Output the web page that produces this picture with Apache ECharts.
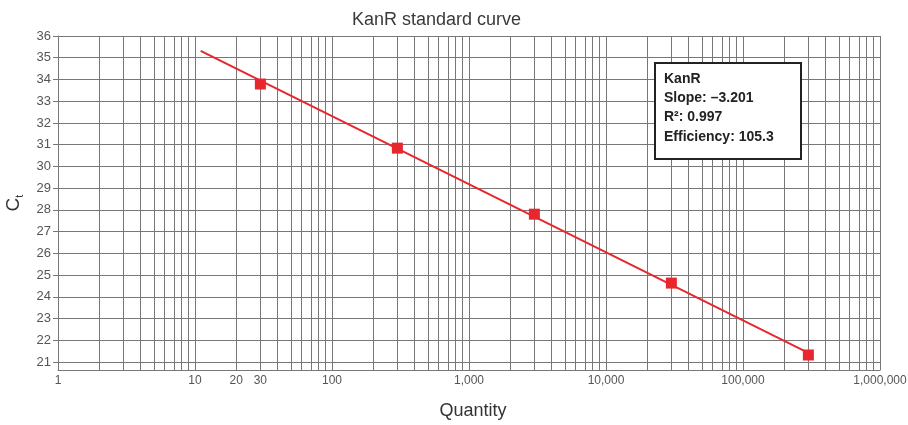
<!DOCTYPE html>
<html>
<head>
<meta charset="utf-8">
<script src="https://cdn.jsdelivr.net/npm/echarts@6/dist/echarts.min.js"></script>
<style>html,body{margin:0;padding:0;background:#fff}#c{width:908px;height:425px}</style>
</head>
<body>
<div id="c"></div>
<script>
// Data
const quantities = [30, 300, 3000, 30000, 300000];
const ctValues = [33.79, 30.84, 27.80, 24.63, 21.32];
const fitLineX = [11, 300000];
const fitLineY = [35.32, 21.42];
const xLabelValues = [1, 10, 20, 30, 100, 1000, 10000, 100000, 1000000];
const yLabelValues = [21, 22, 23, 24, 25, 26, 27, 28, 29, 30, 31, 32, 33, 34, 35, 36];
const boxLines = ['KanR', 'Slope: \u20133.201', 'R\u00b2: 0.997', 'Efficiency: 105.3'];

// minor vertical grid values (1..9 per decade)
const xGridValues = [];
for (let d = 1; d <= 100000; d *= 10) for (let m = 1; m <= 9; m++) xGridValues.push(m * d);
xGridValues.push(1000000);

const RED = '#e8262e';
const GRID = '#777777';
const FONT = 'Liberation Sans';

const chart = echarts.init(document.getElementById('c'), null, {renderer: 'canvas'});
chart.setOption({
  animation: false,
  textStyle: {fontFamily: FONT},
  title: {
    text: 'KanR standard curve', left: 347, top: 6,
    textStyle: {fontFamily: FONT, fontSize: 18, fontWeight: 'normal', color: '#3a3a3a'}
  },
  grid: {left: 58, right: 28, top: 36, bottom: 55, containLabel: false, outerBoundsMode: 'none'},
  xAxis: {
    type: 'log', logBase: 10, min: 1, max: 1000000,
    name: 'Quantity', nameLocation: 'middle', nameGap: 32,
    nameTextStyle: {fontFamily: FONT, fontSize: 18, color: '#333', padding: [0, 0, 0, 8]},
    axisLine: {show: true, lineStyle: {color: GRID, width: 1}},
    axisTick: {show: false},
    splitLine: {show: false},
    minorTick: {show: false}, minorSplitLine: {show: false},
    axisLabel: {
      customValues: xLabelValues, margin: 5, fontSize: 12, color: '#555', fontFamily: FONT,
      showMinLabel: true, showMaxLabel: true, hideOverlap: false,
      formatter: v => Number(v).toLocaleString('en-US')
    }
  },
  yAxis: {
    type: 'value', min: 20.63, max: 36,
    name: '{c|C}{s|t}', nameLocation: 'middle', nameGap: 28, nameRotate: 90,
    nameTextStyle: {
      color: '#333',
      rich: {
        c: {fontFamily: FONT, fontSize: 19, color: '#333', lineHeight: 24},
        s: {fontFamily: FONT, fontSize: 11, color: '#333', verticalAlign: 'bottom', lineHeight: 10}
      }
    },
    axisLine: {show: true, lineStyle: {color: GRID, width: 1}},
    axisTick: {show: true, customValues: yLabelValues, length: 5, lineStyle: {color: GRID}},
    splitLine: {show: false},
    axisLabel: {customValues: yLabelValues, margin: 7, fontSize: 13, color: '#555', fontFamily: FONT}
  },
  graphic: [{
    type: 'group', left: 654, top: 62, z: 100,
    children: [
      {type: 'rect', z: 100, shape: {x: 0, y: 0, width: 146, height: 96}, style: {fill: '#fff', stroke: '#222', lineWidth: 2}},
      ...boxLines.map((t, i) => ({
        type: 'text', z: 101, x: 9, y: 9 + i * 19.3,
        style: {text: t, fontFamily: FONT, fontSize: 14, fontWeight: 'bold', fill: '#222'}
      }))
    ]
  }],
  series: [
    {
      type: 'line', data: [], silent: true, z: 1,
      markLine: {
        silent: true, symbol: ['none', 'none'], animation: false, z: 1,
        label: {show: false},
        lineStyle: {color: GRID, width: 1, type: 'solid'},
        emphasis: {disabled: true},
        data: xGridValues.map(v => ({xAxis: v})).concat(yLabelValues.map(v => ({yAxis: v})))
      }
    },
    {
      type: 'line', z: 3, symbol: 'none', silent: true,
      data: fitLineX.map((x, i) => [x, fitLineY[i]]),
      lineStyle: {color: RED, width: 2}
    },
    {
      type: 'scatter', z: 4, symbol: 'rect', symbolSize: 11,
      data: quantities.map((x, i) => [x, ctValues[i]]),
      itemStyle: {color: RED, opacity: 1}
    }
  ]
});
</script>
</body>
</html>
